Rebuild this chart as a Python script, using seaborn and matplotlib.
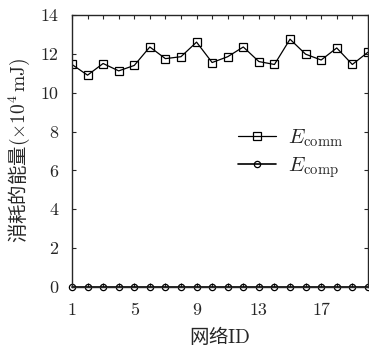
import numpy as np
import pandas as pd
import matplotlib
matplotlib.use("Agg")
import matplotlib.pyplot as plt
import seaborn as sns

# network IDs and energy values (x10^4 mJ)
network_id = list(range(1, 21))
e_comm = [11.45, 10.9, 11.5, 11.12, 11.4, 12.35, 11.75, 11.85, 12.6, 11.55,
          11.85, 12.35, 11.6, 11.45, 12.75, 11.98, 11.68, 12.3, 11.45, 12.08]
e_comp = [0.0] * 20
x_ticks = [1, 5, 9, 13, 17]
y_ticks = [0, 2, 4, 6, 8, 10, 12, 14]

sns.set_style("ticks")
plt.rcParams['font.family'] = ['DejaVu Serif', 'Noto Sans CJK SC']
plt.rcParams['mathtext.fontset'] = 'cm'

df = pd.DataFrame({'ID': network_id, 'comm': e_comm, 'comp': e_comp})

fig = plt.figure(figsize=(3.69, 3.47), dpi=100)
ax = fig.add_axes([0.195, 0.173, 0.802, 0.784])

sns.lineplot(data=df, x='ID', y='comm', ax=ax, color='black', lw=0.9,
             marker='s', markersize=5.5, markerfacecolor='none',
             markeredgecolor='black', markeredgewidth=0.9,
             label=r'$E_{\rm comm}$')
sns.lineplot(data=df, x='ID', y='comp', ax=ax, color='black', lw=1.2,
             marker='o', markersize=4.5, markerfacecolor='none',
             markeredgecolor='black', markeredgewidth=0.9,
             label=r'$E_{\rm comp}$', clip_on=False)

ax.set_xlim(1, 20)
ax.set_ylim(0, 14)
ax.set_xticks(network_id)
ax.set_xticklabels([str(i) if i in x_ticks else '' for i in network_id])
ax.set_yticks(y_ticks)
ax.tick_params(direction='in', top=True, right=True, length=3, width=0.8,
               labelsize=13)
ax.tick_params(axis='x', pad=11)
ax.tick_params(axis='y', pad=10)
for lab in ax.get_xticklabels() + ax.get_yticklabels():
    lab.set_fontfamily('cmr10')
for s in ax.spines.values():
    s.set_linewidth(1.0)

ax.set_xlabel(r'网络$\mathrm{ID}$', fontsize=14, family=['Noto Sans CJK SC'],
              labelpad=5)
ax.set_ylabel(r'消耗的能量$(\times10^4\,\mathrm{mJ})$', fontsize=14,
              family=['Noto Sans CJK SC', 'DejaVu Sans'], labelpad=6)

ax.legend(loc='center right', bbox_to_anchor=(0.98, 0.49), frameon=False,
          fontsize=15, handlelength=1.8, handletextpad=0.6, labelspacing=0.3)

fig.savefig('out.png', dpi=100)
